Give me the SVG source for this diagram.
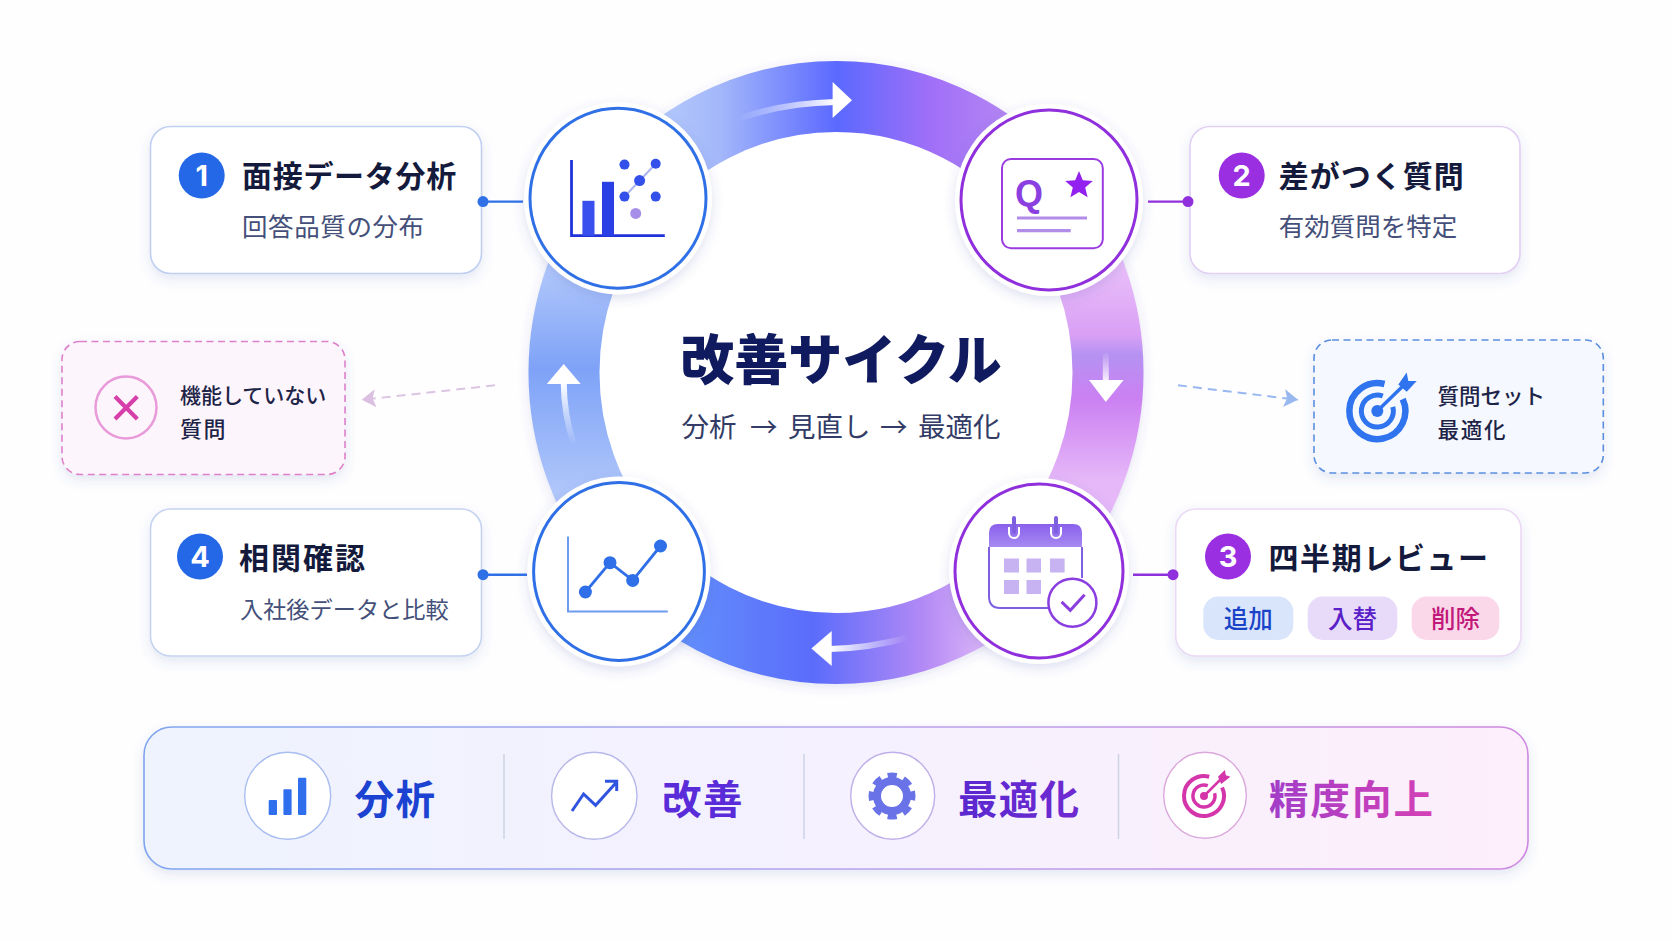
<svg xmlns="http://www.w3.org/2000/svg" width="1672" height="941" viewBox="0 0 1672 941">
<style>
text{font-family:"Noto Sans CJK JP","Noto Sans",sans-serif}
.card{fill:#fff;stroke-width:1.6;filter:url(#sh)}
.title{font-size:30px;font-weight:700;fill:#141a3c}
.sub{font-size:25.5px;fill:#44507a;font-weight:400}
.num{font-family:"Inter","Liberation Sans",sans-serif;font-size:29px;font-weight:700;fill:#fff;text-anchor:middle}
.small{font-size:21.5px;font-weight:500;fill:#1e2447}
.node{fill:#fff;stroke-width:3}
.pill{font-size:24.5px;text-anchor:middle;font-weight:500}
.band{fill:none;stroke-width:71}
.bar{font-size:39.5px;font-weight:700}
.bc{fill:#fff;stroke-width:1.4}
.div{stroke:#cdd3e6;stroke-width:1.5}
.hl{fill:none;stroke-width:6;stroke-linecap:round}
.con{stroke-width:2.4;fill:none}
</style>
<defs>
<filter id="sh" x="-15%" y="-20%" width="130%" height="145%"><feDropShadow dx="0" dy="5" stdDeviation="6" flood-color="#4a5aa8" flood-opacity=".14"/></filter>
<filter id="shr" x="-10%" y="-10%" width="120%" height="120%"><feDropShadow dx="0" dy="3" stdDeviation="6" flood-color="#4a50b0" flood-opacity=".16"/></filter>
<filter id="shn" x="-20%" y="-20%" width="140%" height="140%"><feDropShadow dx="0" dy="4" stdDeviation="6" flood-color="#4a50b0" flood-opacity=".18"/></filter>
<linearGradient id="gT" gradientUnits="userSpaceOnUse" x1="650" y1="0" x2="1010" y2="0"><stop offset="0" stop-color="#b6ccfb"/><stop offset=".19" stop-color="#a4b8fa"/><stop offset=".52" stop-color="#5b69ff"/><stop offset=".78" stop-color="#a06ff8"/><stop offset="1" stop-color="#b486f2"/></linearGradient>
<linearGradient id="gR" gradientUnits="userSpaceOnUse" x1="0" y1="265" x2="0" y2="490"><stop offset="0" stop-color="#eabff9"/><stop offset=".31" stop-color="#d9a0f5"/><stop offset=".4" stop-color="#b592f2"/><stop offset=".59" stop-color="#cb80f2"/><stop offset=".96" stop-color="#e6b8f8"/></linearGradient>
<linearGradient id="gB" gradientUnits="userSpaceOnUse" x1="1000" y1="0" x2="660" y2="0"><stop offset="0" stop-color="#e6c0f8"/><stop offset=".22" stop-color="#b48af5"/><stop offset=".55" stop-color="#5b6cfb"/><stop offset="1" stop-color="#6394fb"/></linearGradient>
<linearGradient id="gL" gradientUnits="userSpaceOnUse" x1="0" y1="270" x2="0" y2="490"><stop offset="0" stop-color="#b0c7fb"/><stop offset=".45" stop-color="#7ea2f7"/><stop offset="1" stop-color="#afc6fa"/></linearGradient>
<linearGradient id="hT" gradientUnits="userSpaceOnUse" x1="738" y1="0" x2="835" y2="0"><stop offset="0" stop-color="#fff" stop-opacity="0"/><stop offset="1" stop-color="#fff"/></linearGradient>
<linearGradient id="hR" gradientUnits="userSpaceOnUse" x1="0" y1="355" x2="0" y2="385"><stop offset="0" stop-color="#fff" stop-opacity=".1"/><stop offset="1" stop-color="#fff"/></linearGradient>
<linearGradient id="hB" gradientUnits="userSpaceOnUse" x1="908" y1="0" x2="830" y2="0"><stop offset="0" stop-color="#fff" stop-opacity="0"/><stop offset="1" stop-color="#fff"/></linearGradient>
<linearGradient id="hL" gradientUnits="userSpaceOnUse" x1="0" y1="445" x2="0" y2="382"><stop offset="0" stop-color="#fff" stop-opacity="0"/><stop offset="1" stop-color="#fff"/></linearGradient>
<linearGradient id="barF" x1="0" x2="1" y1="0" y2="0"><stop offset="0" stop-color="#eef3fe"/><stop offset=".5" stop-color="#f5f1fe"/><stop offset="1" stop-color="#fdeffb"/></linearGradient>
<linearGradient id="barS" x1="0" x2="1" y1="0" y2="0"><stop offset="0" stop-color="#7fa4ee"/><stop offset=".5" stop-color="#b6a4ee"/><stop offset="1" stop-color="#cf88e2"/></linearGradient>
<linearGradient id="txtP" gradientUnits="userSpaceOnUse" x1="1270" y1="0" x2="1433" y2="0"><stop offset="0" stop-color="#a23ec8"/><stop offset="1" stop-color="#d440b6"/></linearGradient>
<linearGradient id="txtO" gradientUnits="userSpaceOnUse" x1="959" y1="0" x2="1079" y2="0"><stop offset="0" stop-color="#5a28d0"/><stop offset="1" stop-color="#6f2ad0"/></linearGradient>
<linearGradient id="cal" x1="0" x2="0" y1="0" y2="1"><stop offset="0" stop-color="#8a60ec"/><stop offset="1" stop-color="#a68af2"/></linearGradient>
<marker id="mP" markerUnits="userSpaceOnUse" markerWidth="16" markerHeight="20" refX="14" refY="9" orient="auto"><path d="M0 0L14 9L0 18L3 9Z" fill="#dcc0e2"/></marker>
<marker id="mB" markerUnits="userSpaceOnUse" markerWidth="16" markerHeight="20" refX="14" refY="9" orient="auto"><path d="M0 0L14 9L0 18L3 9Z" fill="#9ab8f0"/></marker>
</defs>
<rect width="1672" height="941" fill="#fefeff"/>

<g id="ring">
<ellipse cx="836" cy="372.500" rx="268" ry="272" fill="#fff" stroke="#fff" stroke-width="78" filter="url(#shr)"/>
<ellipse cx="836" cy="372.500" rx="229" ry="232" fill="#fff"/>
<path class="band" stroke="url(#gT)" d="M624.600 198.800A272 276 0 0 1 1047.400 198.800"/>
<path class="band" stroke="url(#gR)" d="M1047.400 198.800A272 276 0 0 1 1047.400 546.200"/>
<path class="band" stroke="url(#gB)" d="M1047.400 546.200A272 276 0 0 1 624.600 546.200"/>
<path class="band" stroke="url(#gL)" d="M624.600 546.200A272 276 0 0 1 624.600 198.800"/>
</g>

<g id="connectors">
<path class="hl" stroke="url(#hT)" d="M740 118Q785 103 835 102"/>
<path d="M832.600 82L852 100.200L832.600 118Z" fill="#fff"/>
<path class="hl" stroke="url(#hR)" d="M1105.800 356L1105.800 384"/>
<path d="M1089 380H1123.600L1105.800 402Z" fill="#fff"/>
<path class="hl" stroke="url(#hB)" d="M906 638Q870 648 830 649"/>
<path d="M831.700 631L811.400 648.500L831.700 666Z" fill="#fff"/>
<path class="hl" stroke="url(#hL)" d="M573.500 443Q564 415 563.700 382"/>
<path d="M546.800 384H580.700L563.700 364Z" fill="#fff"/>
<circle cx="483" cy="201.600" r="11" fill="#fff"/><circle cx="1188" cy="201.600" r="11" fill="#fff"/><circle cx="483" cy="574.700" r="11" fill="#fff"/><circle cx="1173" cy="574.700" r="11" fill="#fff"/>
</g>

<g id="card1">
<rect class="card" stroke="#bfcff2" x="150.500" y="126.500" width="331" height="147" rx="20"/>
<circle cx="201.700" cy="175.500" r="23" fill="#2468e8"/><text class="num" x="201.700" y="186">1</text>
<text class="title" x="242" y="187" letter-spacing=".7">面接データ分析</text>
<text class="sub" x="242" y="236" letter-spacing=".6">回答品質の分布</text>
</g>
<g id="card2">
<rect class="card" stroke="#e2cff4" x="1190" y="126.500" width="330" height="147" rx="20"/>
<circle cx="1241.700" cy="175.500" r="23" fill="#9a2fe2"/><text class="num" x="1241.700" y="186">2</text>
<text class="title" x="1278.700" y="187" letter-spacing="1">差がつく質問</text>
<text class="sub" x="1278.700" y="236">有効質問を特定</text>
</g>
<g id="card3">
<rect class="card" stroke="#ebd9f6" x="1175.700" y="509" width="345.300" height="147" rx="20"/>
<circle cx="1228" cy="556.500" r="23" fill="#9a2fe2"/><text class="num" x="1228" y="567">3</text>
<text class="title" x="1268.500" y="569" letter-spacing="1.600">四半期レビュー</text>
<rect x="1203.300" y="596.500" width="90" height="43.500" rx="15" fill="#d9e5fb"/><text class="pill" x="1248.300" y="628" fill="#1a44c8">追加</text>
<rect x="1307.700" y="596.500" width="89.600" height="43.500" rx="15" fill="#e8dbf9"/><text class="pill" x="1352.500" y="628" fill="#5a1fc8">入替</text>
<rect x="1411.700" y="596.500" width="87.600" height="43.500" rx="15" fill="#fad8ea"/><text class="pill" x="1455.500" y="628" fill="#c2187a">削除</text>
</g>
<g id="card4">
<rect class="card" stroke="#c5d3f2" x="150.500" y="509" width="331" height="147" rx="20"/>
<circle cx="200" cy="556.500" r="23" fill="#2468e8"/><text class="num" x="200" y="567">4</text>
<text class="title" x="239" y="569" letter-spacing="2">相関確認</text>
<text class="sub" x="240" y="618" style="font-size:23.200px">入社後データと比較</text>
</g>

<g id="note-left">
<rect x="62" y="341.500" width="283" height="133" rx="18" fill="#fdf5fc" stroke="#dd80cb" stroke-width="1.600" stroke-dasharray="7 4.500" filter="url(#sh)"/>
<ellipse cx="126" cy="407.500" rx="30.500" ry="31" fill="none" stroke="#e99ad9" stroke-width="2.500"/>
<path d="M115 396.500L137.300 419M137.300 396.500L115 419" stroke="#d63fa9" stroke-width="4.200" fill="none"/>
<text class="small" x="180" y="403" style="font-size:21px">機能していない</text>
<text class="small" x="180" y="437" style="font-size:22px" letter-spacing="1.500">質問</text>
</g>
<g id="note-right">
<rect x="1314" y="340" width="289.300" height="133" rx="18" fill="#f5f8fe" stroke="#5b8fe0" stroke-width="1.600" stroke-dasharray="7 4.500" filter="url(#sh)"/>
<g fill="none" stroke="#2f74ee">
<path d="M1402.700 399.200A28 28 0 1 1 1384.500 384" stroke-width="6.500"/>
<path d="M1392.800 406.900A16 16 0 1 1 1382.800 396" stroke-width="5"/>
<path d="M1377.300 411L1404 385" stroke-width="3.500"/>
</g>
<circle cx="1377.300" cy="411" r="6" fill="#2f74ee"/>
<path d="M1398.300 384.500L1406.700 372.500L1408.300 381L1416.700 381L1406.700 391.800Z" fill="#2f74ee"/>
<text class="small" x="1437.500" y="403.500">質問セット</text>
<text class="small" x="1437.500" y="437.500" letter-spacing="1.700">最適化</text>
</g>

<g id="node-analysis">
<ellipse cx="618" cy="198.300" rx="94" ry="96" fill="#fff" filter="url(#shn)"/>
<ellipse class="node" cx="618" cy="198.300" rx="88" ry="90" stroke="#2f70e6"/>
<path d="M571.500 160V235.700H664.800" fill="none" stroke="#2133d8" stroke-width="2.800"/>
<rect x="582.400" y="200.800" width="12.100" height="34.900" fill="#3a50ee"/>
<rect x="602" y="181.800" width="12" height="53.900" fill="#2a3fe4"/>
<path d="M624.500 196.600L655.700 163.700" stroke="#a9b3f0" stroke-width="2"/>
<g fill="#3450ea"><circle cx="624.500" cy="164.600" r="5"/><circle cx="655.700" cy="163.700" r="5"/><circle cx="639.600" cy="180.600" r="5.500"/><circle cx="624.500" cy="196.600" r="5"/><circle cx="655.700" cy="196.600" r="5"/></g>
<circle cx="635.700" cy="213.400" r="5.500" fill="#a78ee8"/>
</g>
<g id="node-question">
<ellipse cx="1049" cy="200" rx="94" ry="96" fill="#fff" filter="url(#shn)"/>
<ellipse class="node" cx="1049" cy="200" rx="88" ry="90" stroke="#9030dc"/>
<rect x="1002" y="159" width="100.800" height="89.300" rx="9" fill="#fff" stroke="#9a3be0" stroke-width="2"/>
<text x="1029" y="206" text-anchor="middle" style="font-family:'Liberation Sans',sans-serif;font-size:36px;font-weight:700" fill="#8b3fe0">Q</text>
<path d="M1079 171L1082.800 180.200L1092.800 181L1085.200 187.500L1087.600 197.200L1079 192L1070.400 197.200L1072.800 187.500L1065.200 181L1075.200 180.200Z" fill="#9220ee"/>
<path d="M1017 218H1087M1017 230.700H1070.700" stroke="#b18ce8" stroke-width="3.200" fill="none"/>
</g>
<g id="node-review">
<ellipse cx="1039" cy="571" rx="90" ry="93" fill="#fff" filter="url(#shn)"/>
<ellipse class="node" cx="1039" cy="571" rx="84" ry="87" stroke="#9030dc"/>
<path d="M989 533Q989 524 998 524H1073Q1082 524 1082 533V547H989Z" fill="url(#cal)"/>
<path d="M989 547V596Q989 608 1000 608H1050M1082 547V578" fill="none" stroke="#7d5fe0" stroke-width="2"/>
<path d="M1009 527V533A5 5 0 0 0 1019 533V527M1051 527V533A5 5 0 0 0 1061 533V527" fill="none" stroke="#fff" stroke-width="2"/>
<path d="M1014 518V532M1056 518V532" stroke="#7d5fe0" stroke-width="4" stroke-linecap="round"/>
<g fill="#c7b2f2"><rect x="1004" y="558.500" width="15" height="14"/><rect x="1026.500" y="558.500" width="14.500" height="14"/><rect x="1050" y="558.500" width="14.600" height="14"/><rect x="1004" y="580" width="15" height="14"/><rect x="1026.500" y="580" width="14.500" height="14"/></g>
<ellipse cx="1072.400" cy="602.700" rx="24" ry="24" fill="#fff" stroke="#8a3ee0" stroke-width="2.500"/>
<path d="M1061.600 601.900L1070.300 610.300L1084.600 594.700" fill="none" stroke="#8a3ee0" stroke-width="3"/>
</g>
<g id="node-correlation">
<ellipse cx="619" cy="571.400" rx="91.500" ry="95" fill="#fff" filter="url(#shn)"/>
<ellipse class="node" cx="619" cy="571.400" rx="85.400" ry="89" stroke="#2f70e6"/>
<path d="M568 536.600V611.500H667.800" fill="none" stroke="#6f9bee" stroke-width="2"/>
<path d="M585.400 592L610 562.700L632.700 580.400L660.500 546" fill="none" stroke="#2f6fe8" stroke-width="2.800"/>
<g fill="#2f6fe8"><circle cx="585.400" cy="592" r="6.500"/><circle cx="610" cy="562.700" r="6.500"/><circle cx="632.700" cy="580.400" r="6.500"/><circle cx="660.500" cy="546" r="6.500"/></g>
</g>

<g id="connector-lines">
<path class="con" stroke="#2f70e6" d="M483 201.600H523"/><circle cx="483" cy="201.600" r="5.500" fill="#2f70e6"/>
<path class="con" stroke="#9030dc" d="M1188 201.600H1148"/><circle cx="1188" cy="201.600" r="5.500" fill="#9030dc"/>
<path class="con" stroke="#9030dc" d="M1173 574.700H1133"/><circle cx="1173" cy="574.700" r="5.500" fill="#9030dc"/>
<path class="con" stroke="#2f70e6" d="M483 574.700H527"/><circle cx="483" cy="574.700" r="5.500" fill="#2f70e6"/>
<path d="M495 385.300L361.700 399.800" fill="none" stroke="#dcc5e2" stroke-width="2" stroke-dasharray="9 6" marker-end="url(#mP)"/>
<path d="M1178 385.300L1298 399.800" fill="none" stroke="#9ab8f0" stroke-width="2" stroke-dasharray="9 6" marker-end="url(#mB)"/>
</g>

<g id="center-title">
<text x="841" y="380" text-anchor="middle" fill="#101a5e" style="font-size:54px;font-weight:900">改善サイクル</text>
<text y="437" fill="#323c66" style="font-size:27.500px"><tspan x="681.500">分析</tspan><tspan x="750">→</tspan><tspan x="788">見直し</tspan><tspan x="880">→</tspan><tspan x="918">最適化</tspan></text>
</g>

<g id="summary-bar">
<rect x="144" y="727" width="1384" height="142" rx="28" fill="url(#barF)" stroke="url(#barS)" stroke-width="1.600" filter="url(#sh)"/>
<path class="div" d="M504 754V839M804 754V839M1118.500 754V839"/>
</g>
<g id="item-analysis">
<ellipse class="bc" cx="287.700" cy="795.700" rx="43" ry="43.500" stroke="#a9bdf0"/>
<g fill="#2f6fee"><rect x="268.700" y="800" width="8.300" height="15" rx="1"/><rect x="283.400" y="789.300" width="8.200" height="25.700" rx="1"/><rect x="298" y="777.700" width="8.300" height="37.300" rx="1"/></g>
<text class="bar" x="354.500" y="813.500" fill="#1b42d0" letter-spacing="1.500">分析</text>
</g>
<g id="item-improve">
<ellipse class="bc" cx="594.300" cy="795.700" rx="42.700" ry="43.500" stroke="#b8b8ea"/>
<path d="M572 811L583.600 794L595.600 805.300L615.800 783M605 781.300H616.700V791" fill="none" stroke="#2f55e0" stroke-width="3"/>
<text class="bar" x="662" y="813.500" fill="#5a2bd8" letter-spacing="1.500">改善</text>
</g>
<g id="item-optimize">
<ellipse class="bc" cx="892.700" cy="795.700" rx="42" ry="43.500" stroke="#c0b0ea"/>
<circle cx="892" cy="796" r="15" fill="none" stroke="#6a72e8" stroke-width="8"/>
<circle cx="892" cy="796" r="20" fill="none" stroke="#6a72e8" stroke-width="7" stroke-dasharray="8.700 7" transform="rotate(-13.500 892 796)"/>
<text class="bar" x="958" y="813.500" fill="url(#txtO)" letter-spacing="1.200">最適化</text>
</g>
<g id="item-accuracy">
<ellipse class="bc" cx="1205" cy="795.300" rx="41.300" ry="43" stroke="#dba8dc"/>
<g fill="none" stroke="#d535aa">
<path d="M1222.100 787.500A20 20 0 1 1 1209.200 776.700" stroke-width="4"/>
<path d="M1214.600 793.200A11 11 0 1 1 1207.800 785.700" stroke-width="3.500"/>
<path d="M1204 796L1221 779" stroke-width="2.500"/>
</g>
<circle cx="1204" cy="796" r="4" fill="#d535aa"/>
<path d="M1218 776.700L1224.900 770L1225.800 775.300L1230.400 776.700L1221.200 784Z" fill="#d535aa"/>
<text class="bar" x="1269" y="813.500" fill="url(#txtP)" letter-spacing="2">精度向上</text>
</g>
</svg>
